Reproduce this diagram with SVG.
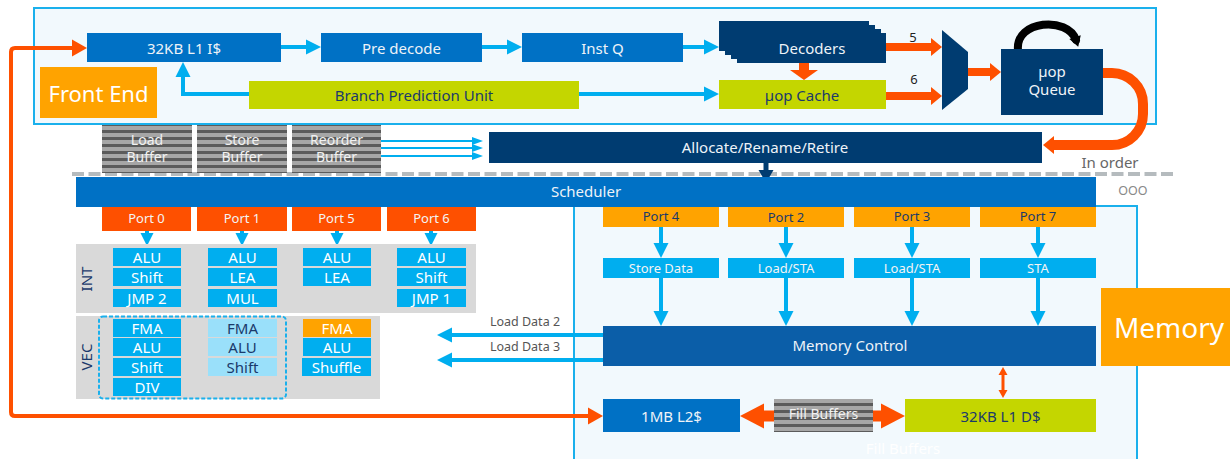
<svg xmlns="http://www.w3.org/2000/svg" width="1230" height="459" viewBox="0 0 1230 459">
<style>
text{font-family:"Noto Sans","Open Sans","Liberation Sans",sans-serif;text-anchor:middle;dominant-baseline:central}
.blue{fill:#0071c5}.navy{fill:#003c71}.lime{fill:#c4d600}.org{fill:#ffa300}.red{fill:#fe5000}
.unit{fill:#00aeef}.lunit{fill:#9ae0fa}.memc{fill:#0b5ea8}
.w{fill:#eef3f8;font-size:15px}.wd{fill:#1b3a6b;font-size:15px}
.pt{fill:#f4f4f4;font-size:13px}.pd{fill:#1b3a6b;font-size:13px}
.u{fill:#ffffff;font-size:15px}.ud{fill:#1b3a6b;font-size:15px}
.frame{fill:#f2f9fd;stroke:#1ab0ec;stroke-width:2}
.gbox{fill:#d9d9d9}
.bl{fill:none;stroke:#00aeef;stroke-width:4}
.bl2{fill:none;stroke:#00aeef;stroke-width:2}
.ol{fill:none;stroke:#fe5000}
.gt{fill:#555;font-size:12.5px}
.bt{fill:#f2f2f2;font-size:14px}
</style>
<defs>
<pattern id="stripes" width="10" height="7" patternUnits="userSpaceOnUse">
<rect width="10" height="7" fill="#a6a6a6"/><rect y="4" width="10" height="3" fill="#5b5b5b"/>
</pattern>
<marker id="mB" markerUnits="userSpaceOnUse" markerWidth="15" markerHeight="15" refX="8" refY="7.5" orient="auto" overflow="visible"><path d="M0,0 L15,7.5 L0,15z" fill="#00aeef"/></marker>
<marker id="mP" markerUnits="userSpaceOnUse" markerWidth="13" markerHeight="13" refX="6" refY="6.5" orient="auto" overflow="visible"><path d="M0,0 L13,6.5 L0,13z" fill="#00aeef"/></marker>
<marker id="mBs" markerUnits="userSpaceOnUse" markerWidth="11" markerHeight="8" refX="5" refY="4" orient="auto" overflow="visible"><path d="M0,0 L11,4 L0,8z" fill="#00aeef"/></marker>
<marker id="mO" markerUnits="userSpaceOnUse" markerWidth="11" markerHeight="18" refX="4" refY="9" orient="auto" overflow="visible"><path d="M0,0 L11,9 L0,18z" fill="#fe5000"/></marker>
<marker id="mOL" markerUnits="userSpaceOnUse" markerWidth="15" markerHeight="17" refX="7" refY="8.5" orient="auto-start-reverse" overflow="visible"><path d="M0,0 L15,8.5 L0,17z" fill="#fe5000"/></marker>
<marker id="mOB" markerUnits="userSpaceOnUse" markerWidth="24" markerHeight="25" refX="8" refY="12.5" orient="auto-start-reverse" overflow="visible"><path d="M0,0 L24,12.5 L0,25z" fill="#fe5000"/></marker>
<marker id="mOD" markerUnits="userSpaceOnUse" markerWidth="10" markerHeight="28" refX="4" refY="14" orient="auto" overflow="visible"><path d="M0,0 L10,14 L0,28z" fill="#fe5000"/></marker>
<marker id="mOS" markerUnits="userSpaceOnUse" markerWidth="8" markerHeight="9" refX="3" refY="4.5" orient="auto-start-reverse" overflow="visible"><path d="M0,0 L8,4.5 L0,9z" fill="#fe5000"/></marker>
<marker id="mK" markerUnits="userSpaceOnUse" markerWidth="10" markerHeight="12" refX="3" refY="6" orient="auto" overflow="visible"><path d="M0,0 L10,6 L0,12z" fill="#000"/></marker>
<marker id="mN" markerUnits="userSpaceOnUse" markerWidth="13" markerHeight="15" refX="6" refY="7.5" orient="auto" overflow="visible"><path d="M0,0 L13,7.5 L0,15z" fill="#003c71"/></marker>
</defs>

<!-- regions -->
<rect class="frame" x="34" y="8" width="1122" height="116"/>
<rect class="frame" x="574" y="206" width="563" height="270"/>

<g id="frontend-label"><rect class="org" x="40" y="67" width="117" height="51"/><text x="98.5" y="92.5" style="fill:#fff;font-size:22px">Front End</text></g>
<g id="memory-label"><rect class="org" x="1101" y="288" width="129" height="78"/><text x="1169" y="327" style="fill:#fff;font-size:28px">Memory</text></g>

<!-- dashed boundary -->
<path d="M72,174 H1176" fill="none" stroke="#b5bbbe" stroke-width="4" stroke-dasharray="12 4.5"/>
<text x="1133" y="190" style="fill:#888;font-size:12.5px">OOO</text>
<text x="1110" y="162" style="fill:#666;font-size:15px">In order</text>

<g id="connectors">
<path class="bl" d="M281,47 H314" marker-end="url(#mB)"/>
<path class="bl" d="M482,47 H515" marker-end="url(#mB)"/>
<path class="bl" d="M683,47 H712" marker-end="url(#mB)"/>
<path class="bl" d="M579,94 H712" marker-end="url(#mB)"/>
<path class="bl" d="M249,94 H183 V69" marker-end="url(#mB)"/>
<path class="ol" stroke-width="8" d="M886,47 H935" marker-end="url(#mO)"/>
<path class="ol" stroke-width="8" d="M886,96 H935" marker-end="url(#mO)"/>
<path class="ol" stroke-width="8" d="M968,72 H994" marker-end="url(#mO)"/>
<path class="ol" stroke-width="10" d="M804,63 V74" marker-end="url(#mOD)"/>
<path class="ol" stroke-width="10" d="M1103,73 H1112 A31,31 0 0 1 1143,104 V114 A31,31 0 0 1 1112,145 H1050" marker-end="url(#mO)"/>
<path fill="none" stroke="#000" stroke-width="8" stroke-linecap="round" d="M1018,50 C1015,20 1068,16 1076,40" marker-end="url(#mK)"/>
<path class="bl2" d="M381,141 H477" marker-end="url(#mBs)"/>
<path class="bl2" d="M381,148 H477" marker-end="url(#mBs)"/>
<path class="bl2" d="M381,156 H477" marker-end="url(#mBs)"/>
<path fill="none" stroke="#003c71" stroke-width="5" d="M766,163 V176" marker-end="url(#mN)"/>
<path class="ol" stroke-width="4" d="M595,416 H15 Q11,416 11,412 V52 Q11,48 15,48 H79" marker-start="url(#mOL)" marker-end="url(#mOL)"/>
<path class="bl" d="M147,231 V239" marker-end="url(#mP)"/>
<path class="bl" d="M242,231 V239" marker-end="url(#mP)"/>
<path class="bl" d="M337,231 V239" marker-end="url(#mP)"/>
<path class="bl" d="M431,231 V239" marker-end="url(#mP)"/>
<path class="bl" d="M661,227 V251" marker-end="url(#mB)"/>
<path class="bl" d="M786,227 V251" marker-end="url(#mB)"/>
<path class="bl" d="M912,227 V251" marker-end="url(#mB)"/>
<path class="bl" d="M1038,227 V251" marker-end="url(#mB)"/>
<path class="bl" d="M661,278 V319" marker-end="url(#mB)"/>
<path class="bl" d="M786,278 V319" marker-end="url(#mB)"/>
<path class="bl" d="M912,278 V319" marker-end="url(#mB)"/>
<path class="bl" d="M1038,278 V319" marker-end="url(#mB)"/>
<path class="bl" d="M603,335 H444" marker-end="url(#mB)"/>
<path class="bl" d="M603,360 H444" marker-end="url(#mB)"/>
<path class="ol" stroke-width="3" d="M1003,372 V393" marker-start="url(#mOS)" marker-end="url(#mOS)"/>
<path class="ol" stroke-width="11" d="M756,416 H889" marker-start="url(#mOB)" marker-end="url(#mOB)"/>
</g>
<text class="gt" x="525" y="321">Load Data 2</text>
<text class="gt" x="525" y="346">Load Data 3</text>
<text x="913" y="37" style="fill:#222;font-size:13px">5</text>
<text x="914" y="79" style="fill:#222;font-size:13px">6</text>

<g id="l1i"><rect class="blue" x="87" y="33" width="194" height="29"/><text class="w" x="184" y="47.5">32KB L1 I$</text></g>
<g id="predecode"><rect class="blue" x="321" y="33" width="161" height="29"/><text class="w" x="401.5" y="47.5">Pre decode</text></g>
<g id="instq"><rect class="blue" x="522" y="33" width="161" height="29"/><text class="w" x="602.5" y="47.5">Inst Q</text></g>
<g id="decoders">
<rect class="navy" x="719" y="21" width="150" height="30"/>
<rect class="navy" x="725" y="25" width="150" height="30"/>
<rect class="navy" x="731" y="29" width="150" height="30"/>
<rect class="navy" x="737" y="33" width="149" height="30"/>
<text class="w" x="812" y="48">Decoders</text></g>
<g id="bpu"><rect class="lime" x="249" y="81" width="330" height="28"/><text class="wd" x="414" y="94.5">Branch Prediction Unit</text></g>
<g id="uopcache"><rect class="lime" x="719" y="80" width="167" height="29"/><text class="wd" x="802" y="94.5">µop Cache</text></g>
<g id="mux"><polygon class="navy" points="942,30 968,52 968,89 942,110"/></g>
<g id="uopqueue"><rect class="navy" x="1001" y="49" width="102" height="66"/><text class="w" x="1052" y="71">µop</text><text class="w" x="1052" y="89">Queue</text></g>

<g id="loadbuf"><rect fill="url(#stripes)" x="102" y="125" width="90" height="48"/><text class="bt" x="147" y="139">Load</text><text class="bt" x="147" y="156">Buffer</text></g>
<g id="storebuf"><rect fill="url(#stripes)" x="197" y="125" width="90" height="48"/><text class="bt" x="242" y="139">Store</text><text class="bt" x="242" y="156">Buffer</text></g>
<g id="reorderbuf"><rect fill="url(#stripes)" x="292" y="125" width="89" height="48"/><text class="bt" x="336.5" y="139">Reorder</text><text class="bt" x="336.5" y="156">Buffer</text></g>
<g id="allocate"><rect class="navy" x="489" y="132" width="553" height="31"/><text class="w" x="765" y="147">Allocate/Rename/Retire</text></g>

<g id="scheduler"><rect class="blue" x="76" y="177" width="1020" height="30"/><text class="w" x="586" y="191">Scheduler</text></g>

<g id="port0"><rect class="red" x="102" y="207" width="89" height="24"/><text class="pt" x="146.5" y="218">Port 0</text></g>
<g id="port1"><rect class="red" x="197" y="207" width="90" height="24"/><text class="pt" x="242" y="218">Port 1</text></g>
<g id="port5"><rect class="red" x="292" y="207" width="89" height="24"/><text class="pt" x="336.5" y="218">Port 5</text></g>
<g id="port6"><rect class="red" x="387" y="207" width="89" height="24"/><text class="pt" x="431.5" y="218">Port 6</text></g>

<g id="int">
<rect class="gbox" x="76" y="244" width="400" height="69"/>
<text x="86" y="279" transform="rotate(-90 86 279)" style="fill:#1b3a6b;font-size:15px">INT</text>
<rect class="unit" x="113" y="248" width="68" height="18"/><text class="u" x="147" y="257">ALU</text>
<rect class="unit" x="113" y="268" width="68" height="18"/><text class="u" x="147" y="277">Shift</text>
<rect class="unit" x="113" y="289" width="68" height="18"/><text class="u" x="147" y="298">JMP 2</text>
<rect class="unit" x="208" y="248" width="69" height="18"/><text class="u" x="242.5" y="257">ALU</text>
<rect class="unit" x="208" y="268" width="69" height="18"/><text class="u" x="242.5" y="277">LEA</text>
<rect class="unit" x="208" y="289" width="69" height="18"/><text class="u" x="242.5" y="298">MUL</text>
<rect class="unit" x="303" y="248" width="68" height="18"/><text class="u" x="337" y="257">ALU</text>
<rect class="unit" x="303" y="268" width="68" height="18"/><text class="u" x="337" y="277">LEA</text>
<rect class="unit" x="397" y="248" width="69" height="18"/><text class="u" x="431.5" y="257">ALU</text>
<rect class="unit" x="397" y="268" width="69" height="18"/><text class="u" x="431.5" y="277">Shift</text>
<rect class="unit" x="397" y="289" width="69" height="18"/><text class="u" x="431.5" y="298">JMP 1</text>
</g>

<g id="vec">
<rect class="gbox" x="76" y="316" width="304" height="83"/>
<text x="86" y="357" transform="rotate(-90 86 357)" style="fill:#1b3a6b;font-size:15px">VEC</text>
<rect x="99" y="316.5" width="187" height="82" rx="4" fill="none" stroke="#1ab0ec" stroke-width="2" stroke-dasharray="4 2"/>
<rect class="unit" x="113" y="319" width="68" height="18"/><text class="u" x="147" y="328">FMA</text>
<rect class="unit" x="113" y="338" width="68" height="18"/><text class="u" x="147" y="347">ALU</text>
<rect class="unit" x="113" y="358" width="68" height="18"/><text class="u" x="147" y="367">Shift</text>
<rect class="unit" x="113" y="378" width="68" height="18"/><text class="u" x="147" y="387">DIV</text>
<rect class="lunit" x="208" y="319" width="69" height="18"/><text class="ud" x="242.5" y="328">FMA</text>
<rect class="lunit" x="208" y="338" width="69" height="18"/><text class="ud" x="242.5" y="347">ALU</text>
<rect class="lunit" x="208" y="358" width="69" height="18"/><text class="ud" x="242.5" y="367">Shift</text>
<rect class="org" x="303" y="319" width="68" height="18"/><text class="u" x="337" y="328">FMA</text>
<rect class="unit" x="303" y="338" width="68" height="18"/><text class="u" x="337" y="347">ALU</text>
<rect class="unit" x="302" y="358" width="69" height="18"/><text class="u" x="336.5" y="367">Shuffle</text>
</g>

<g id="port4"><rect class="org" x="603" y="207" width="116" height="20"/><text class="pd" x="661" y="216">Port 4</text></g>
<g id="port2"><rect class="org" x="728" y="207" width="116" height="20"/><text class="pd" x="786" y="217">Port 2</text></g>
<g id="port3"><rect class="org" x="854" y="207" width="116" height="20"/><text class="pd" x="912" y="216">Port 3</text></g>
<g id="port7"><rect class="org" x="980" y="207" width="116" height="20"/><text class="pd" x="1038" y="216">Port 7</text></g>
<g id="storedata"><rect class="unit" x="603" y="258" width="116" height="20"/><text class="pt" x="661" y="268">Store Data</text></g>
<g id="loadsta2"><rect class="unit" x="728" y="258" width="116" height="20"/><text class="pt" x="786" y="268">Load/STA</text></g>
<g id="loadsta3"><rect class="unit" x="854" y="258" width="116" height="20"/><text class="pt" x="912" y="268">Load/STA</text></g>
<g id="sta"><rect class="unit" x="980" y="258" width="116" height="20"/><text class="pt" x="1038" y="268">STA</text></g>
<g id="memctl"><rect class="memc" x="603" y="326" width="493" height="40"/><text class="w" x="850" y="345">Memory Control</text></g>
<g id="l2"><rect class="blue" x="603" y="399" width="137" height="33"/><text class="w" x="671.5" y="415.5">1MB L2$</text></g>
<g id="fillbuf"><rect fill="url(#stripes)" x="774" y="399" width="99" height="33"/><text class="bt" x="823.5" y="413">Fill Buffers</text></g>
<g id="l1d"><rect class="lime" x="905" y="399" width="191" height="33"/><text class="wd" x="1000.5" y="415.5">32KB L1 D$</text></g>
<text x="903" y="448" style="fill:#ffffff;font-size:15px">Fill Buffers</text>
</svg>
